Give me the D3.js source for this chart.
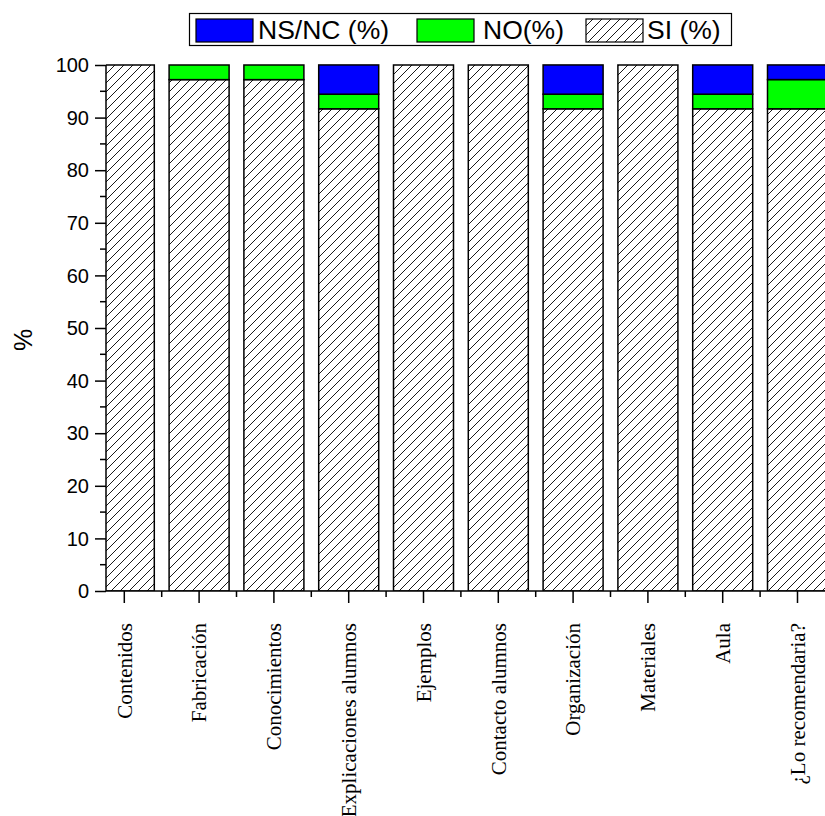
<!DOCTYPE html>
<html>
<head>
<meta charset="utf-8">
<script src="https://cdn.jsdelivr.net/npm/d3@7/dist/d3.min.js"></script>
<style>
    body { margin:0; background:#fff; }
    svg { display:block; }
    .tick-label { font-family:"Liberation Sans", Arial, sans-serif; font-size:20px; fill:#000; }
    .cat-label { font-family:"Liberation Serif", "Times New Roman", serif; font-size:21px; fill:#000; }
    .legend-text { font-family:"Liberation Sans", Arial, sans-serif; font-size:26.5px; fill:#000; }
</style>
</head>
<body>
<script>
(function(window) {
    'use strict';

    var categories = ['Contenidos','Fabricación','Conocimientos','Explicaciones alumnos','Ejemplos',
                      'Contacto alumnos','Organización','Materiales','Aula','¿Lo recomendaria?'];
    var si   = [100, 97.22, 97.22, 91.67, 100, 100, 91.67, 100, 91.67, 91.67];
    var no   = [0, 2.78, 2.78, 2.78, 0, 0, 2.78, 0, 2.78, 5.56];
    var nsnc = [0, 0, 0, 5.56, 0, 0, 5.56, 0, 5.56, 2.78];
    var yTicks = [0,10,20,30,40,50,60,70,80,90,100];

    var W = 825, H = 816;

    var svg = d3.select('body').append('svg')
        .attr('width', W)
        .attr('height', H);

    /******************************************************************
        hatch pattern for SI
     ******************************************************************/
    var defs = svg.append('defs');

    defs.append('pattern')
        .attr('id','hatch')
        .attr('patternUnits','userSpaceOnUse')
        .attr('width', 9)
        .attr('height', 9)
      .call(function(p) {
            p.append('rect').attr('width', 9).attr('height', 9).attr('fill','#fff');
            p.append('path')
                .attr('d','M0,9 L9,0 M-2,2 L2,-2 M7,11 L11,7')
                .attr('stroke','#000')
                .attr('stroke-width', 0.9);
        });

    defs.append('clipPath')
        .attr('id','plotclip')
      .append('rect')
        .attr('x', 106)
        .attr('y', 0)
        .attr('width', W)
        .attr('height', 591);

    /******************************************************************
        scales
     ******************************************************************/
    var step = 74.8, x0 = 124.3;
    var x = d3.scaleLinear()
        .domain([0, 1])
        .range([x0, x0 + step]);

    var y = d3.scaleLinear()
        .domain([0, 100])
        .range([591, 65]);

    var barW = 60;

    var rows = categories.map(function(c, i) {
        return { cat:c, i:i, si:si[i], no:no[i], nsnc:nsnc[i] };
    });

    var stack = d3.stack()
        .keys(['si','no','nsnc'])(rows);

    var fills = { si:'url(#hatch)', no:'#00ff00', nsnc:'#0000ff' };

    var plot = svg.append('g')
        .attr('clip-path','url(#plotclip)');

    plot.selectAll('.layer')
        .data(stack).enter()
            .append('g')
                .attr('class','layer')
                .attr('fill', function(d){ return fills[d.key]; })
            .selectAll('rect')
                .data(function(d){ return d.filter(function(s){ return s[1] > s[0]; }); })
                .enter()
                    .append('rect')
                        .attr('x', function(d){ return x(d.data.i) - barW/2; })
                        .attr('width', barW)
                        .attr('y', function(d){ return y(d[1]); })
                        .attr('height', function(d){ return y(d[0]) - y(d[1]); })
                        .attr('stroke','#000')
                        .attr('stroke-width', 1.5);

    /******************************************************************
        y axis
     ******************************************************************/
    var yAxis = svg.append('g')
        .attr('transform','translate(106,0)');

    yAxis.call(d3.axisLeft(y).tickValues(yTicks).tickSize(11).tickFormat(''));
    yAxis.call(function(g) {
        g.select('.domain').attr('stroke-width', 1.5).attr('d','M0,' + y(100) + 'V' + y(0));
        g.selectAll('.tick line').attr('stroke-width', 1.5);
    });

    yAxis.selectAll('.minor')
        .data(d3.range(5, 100, 10)).enter()
            .append('line')
                .attr('class','minor')
                .attr('x1', -6).attr('x2', 0)
                .attr('y1', function(d){ return y(d); })
                .attr('y2', function(d){ return y(d); })
                .attr('stroke','#000')
                .attr('stroke-width', 1.5);

    yAxis.selectAll('.tick-label')
        .data(yTicks).enter()
            .append('text')
                .attr('class','tick-label')
                .attr('x', -17)
                .attr('y', function(d){ return y(d); })
                .attr('dy','0.36em')
                .attr('text-anchor','end')
                .text(function(d){ return d; });

    svg.append('text')
        .attr('class','legend-text')
        .attr('transform','translate(23,340) rotate(-90)')
        .attr('text-anchor','middle')
        .attr('dy','0.35em')
        .style('font-size','25px')
        .text('%');

    /******************************************************************
        x axis
     ******************************************************************/
    var xAxis = svg.append('g')
        .attr('transform','translate(0,' + y(0) + ')');

    xAxis.append('line')
        .attr('x1', 106).attr('x2', W)
        .attr('stroke','#000')
        .attr('stroke-width', 1.5);

    xAxis.selectAll('.major')
        .data(rows).enter()
            .append('line')
                .attr('class','major')
                .attr('x1', function(d){ return x(d.i); })
                .attr('x2', function(d){ return x(d.i); })
                .attr('y1', 0).attr('y2', 12)
                .attr('stroke','#000')
                .attr('stroke-width', 1.5);

    xAxis.selectAll('.minor')
        .data(rows).enter()
            .append('line')
                .attr('class','minor')
                .attr('x1', function(d){ return x(d.i + 0.5); })
                .attr('x2', function(d){ return x(d.i + 0.5); })
                .attr('y1', 0).attr('y2', 6)
                .attr('stroke','#000')
                .attr('stroke-width', 1.5);

    xAxis.selectAll('.cat-label')
        .data(rows).enter()
            .append('text')
                .attr('class','cat-label')
                .attr('transform', function(d){ return 'translate(' + [x(d.i), 32] + ') rotate(-90)'; })
                .attr('text-anchor','end')
                .attr('dy','0.35em')
                .text(function(d){ return d.cat; });

    /******************************************************************
        legend
     ******************************************************************/
    var legend = svg.append('g')
        .attr('class','legend');

    legend.append('rect')
        .attr('x', 189.5).attr('y', 13.5)
        .attr('width', 542).attr('height', 32)
        .attr('fill','#fff')
        .attr('stroke','#000')
        .attr('stroke-width', 1.2);

    var items = [
        { key:'nsnc', label:'NS/NC (%)', sx:196, tx:258 },
        { key:'no',   label:'NO(%)',     sx:417, tx:483 },
        { key:'si',   label:'SI (%)',    sx:586, tx:647 }
    ];

    var li = legend.selectAll('.item')
        .data(items).enter()
            .append('g')
                .attr('class','item');

    li.append('rect')
        .attr('x', function(d){ return d.sx; })
        .attr('y', 19)
        .attr('width', 57)
        .attr('height', 23)
        .attr('fill', function(d){ return fills[d.key]; })
        .attr('stroke','#000')
        .attr('stroke-width', 1.2);

    li.append('text')
        .attr('class','legend-text')
        .attr('x', function(d){ return d.tx; })
        .attr('y', 39)
        .text(function(d){ return d.label; });

})(window);
</script>
</body>
</html>
